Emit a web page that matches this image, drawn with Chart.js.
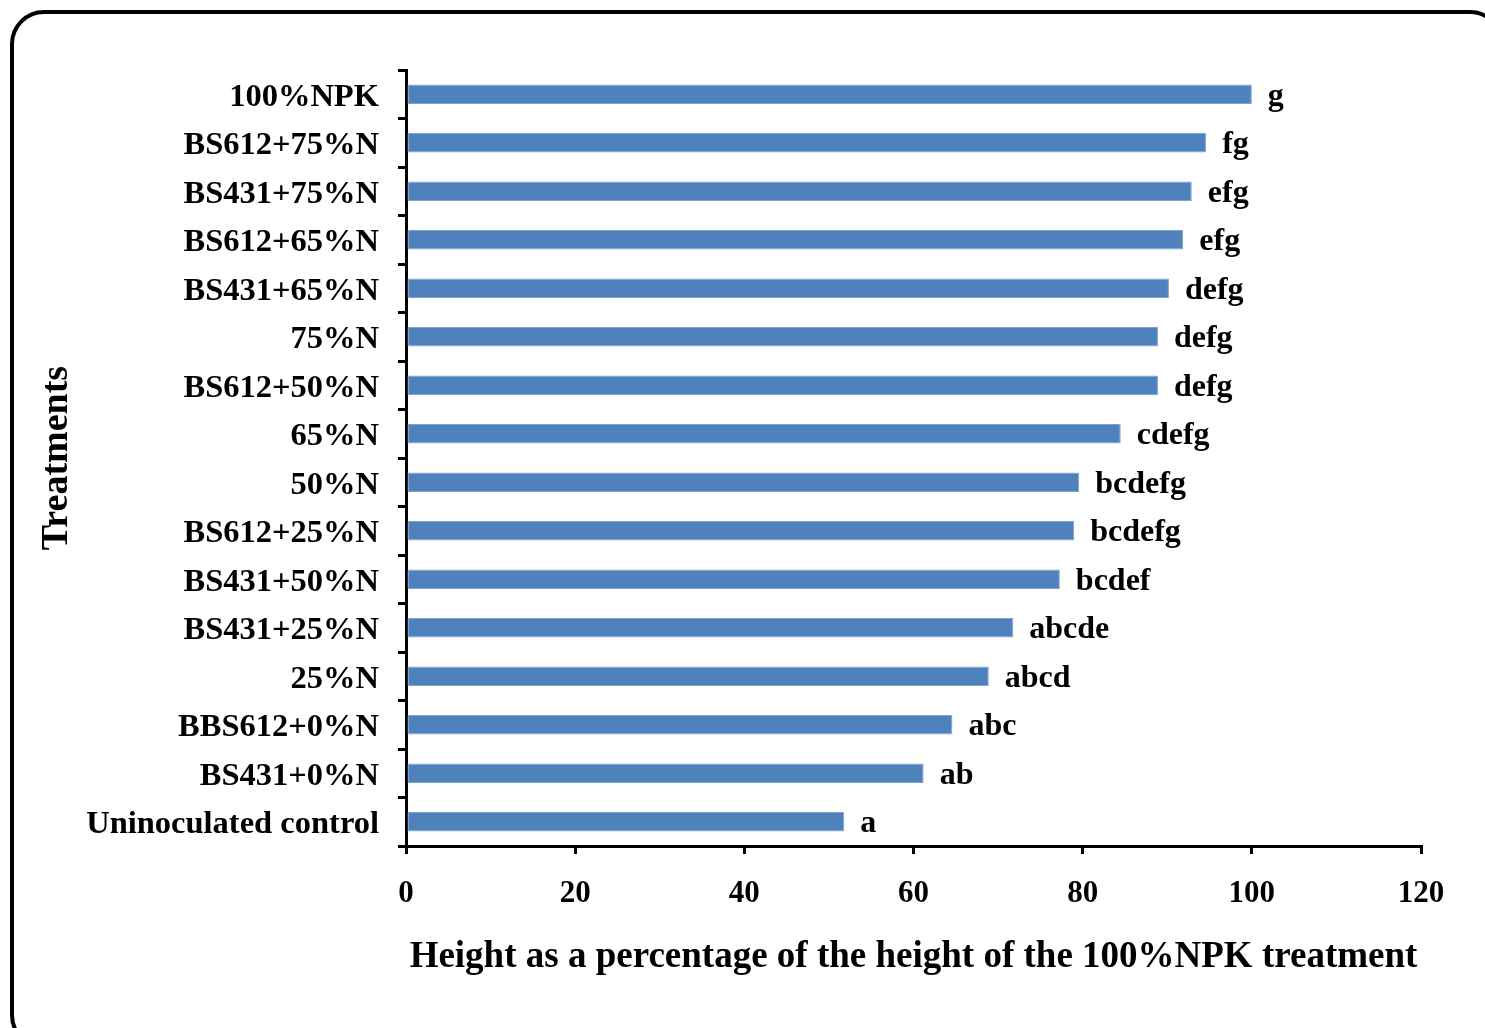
<!DOCTYPE html>
<html>
<head>
<meta charset="utf-8">
<title>Relative plant height by treatment</title>
<script src="https://cdn.jsdelivr.net/npm/chart.js@4.4.1/dist/chart.umd.min.js"></script>
<style>
  html, body { margin: 0; padding: 0; background: #ffffff; overflow: hidden; }
  #wrap { position: relative; width: 1485px; height: 1028px; }
</style>
</head>
<body>
<div id="wrap"><canvas id="chart" width="1485" height="1028"></canvas></div>
<script>
// Treatments, listed top to bottom
const treatments = [
  '100%NPK', 'BS612+75%N', 'BS431+75%N', 'BS612+65%N', 'BS431+65%N',
  '75%N', 'BS612+50%N', '65%N', '50%N', 'BS612+25%N', 'BS431+50%N',
  'BS431+25%N', '25%N', 'BBS612+0%N', 'BS431+0%N', 'Uninoculated control'
];

// Height as % of the 100%NPK treatment
const heightPct = [
  100, 94.6, 92.9, 91.9, 90.2,
  88.9, 88.9, 84.5, 79.6, 79.0, 77.3,
  71.8, 68.9, 64.6, 61.2, 51.8
];

// Significance groupings printed after each bar
const sigLetters = [
  'g', 'fg', 'efg', 'efg', 'defg',
  'defg', 'defg', 'cdefg', 'bcdefg', 'bcdefg', 'bcdef',
  'abcde', 'abcd', 'abc', 'ab', 'a'
];

// Value axis range and step
const xMin = 0, xMax = 120, xStep = 20;

const FONT = "'Liberation Serif', 'Times New Roman', serif";

// Rounded outer frame plus white background
const framePlugin = {
  id: 'frame',
  beforeDraw(chart) {
    const ctx = chart.ctx;
    ctx.save();
    ctx.fillStyle = '#ffffff';
    ctx.fillRect(0, 0, chart.width, chart.height);
    ctx.strokeStyle = '#000000';
    ctx.lineWidth = 4;
    ctx.beginPath();
    ctx.roundRect(12, 12, 1490, 1035, 32);
    ctx.stroke();
    ctx.restore();
  }
};

// Letter groups written just past the end of each bar
const letterPlugin = {
  id: 'letters',
  afterDatasetsDraw(chart) {
    const ctx = chart.ctx;
    const meta = chart.getDatasetMeta(0);
    ctx.save();
    ctx.fillStyle = '#000000';
    ctx.font = 'bold 32px ' + FONT;
    ctx.textAlign = 'left';
    ctx.textBaseline = 'middle';
    meta.data.forEach((bar, i) => {
      ctx.fillText(sigLetters[i], bar.x + 16, bar.y + 2);
    });
    ctx.restore();
  }
};

new Chart(document.getElementById('chart'), {
  type: 'bar',
  data: {
    labels: treatments,
    datasets: [{
      data: heightPct,
      backgroundColor: '#4F81BD',
      borderColor: '#7FA3CF',
      borderWidth: 1,
      borderSkipped: false,
      categoryPercentage: 1.0,
      barPercentage: 0.4
    }]
  },
  options: {
    indexAxis: 'y',
    responsive: false,
    animation: false,
    devicePixelRatio: 1,
    layout: { padding: { left: 28, right: 64, top: 70, bottom: 48 } },
    plugins: {
      legend: { display: false },
      tooltip: { enabled: false }
    },
    scales: {
      x: {
        type: 'linear',
        min: xMin,
        max: xMax,
        afterFit(scale) { scale.height = 134; },
        ticks: {
          stepSize: xStep,
          color: '#000000',
          font: { family: FONT, size: 31, weight: 'bold' },
          padding: 21,
          maxRotation: 0
        },
        grid: {
          drawOnChartArea: false,
          drawTicks: true,
          tickLength: 8,
          color: '#000000',
          lineWidth: 3
        },
        border: { display: true, color: '#000000', width: 3 },
        title: {
          display: true,
          text: 'Height as a percentage of the height of the 100%NPK treatment',
          color: '#000000',
          font: { family: FONT, size: 37, weight: 'bold' },
          padding: { top: 0, bottom: 0 }
        }
      },
      y: {
        afterFit(scale) { scale.width = 378; },
        ticks: {
          color: '#000000',
          font: { family: FONT, size: 32.5, weight: 'bold' },
          padding: 19,
          labelOffset: 3
        },
        grid: {
          offset: true,
          drawOnChartArea: false,
          drawTicks: true,
          tickLength: 8,
          color: '#000000',
          lineWidth: 3
        },
        border: { display: true, color: '#000000', width: 3 },
        title: {
          display: true,
          text: 'Treatments',
          color: '#000000',
          font: { family: FONT, size: 38, weight: 'bold' },
          padding: { top: 6, bottom: 0 }
        }
      }
    }
  },
  plugins: [framePlugin, letterPlugin]
});
</script>
</body>
</html>
